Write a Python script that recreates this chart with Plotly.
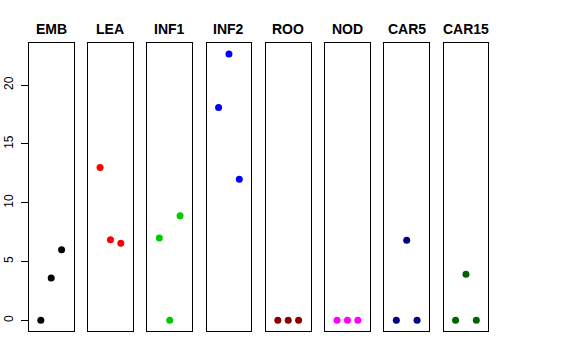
import plotly.graph_objects as go

categories = ["EMB", "LEA", "INF1", "INF2", "ROO", "NOD", "CAR5", "CAR15"]
values = {
    "EMB": [0.0, 3.6, 6.0],
    "LEA": [13.0, 6.85, 6.55],
    "INF1": [7.0, 0.0, 8.9],
    "INF2": [18.1, 22.65, 12.0],
    "ROO": [0.0, 0.0, 0.0],
    "NOD": [0.0, 0.0, 0.0],
    "CAR5": [0.0, 6.82, 0.0],
    "CAR15": [0.0, 3.93, 0.0],
}
colors = ["#000000", "#FF0000", "#00CD00", "#0000FF", "#8B0000", "#FF00FF", "#000080", "#006400"]
positions = [1, 2, 3]
y_ticks = [0, 5, 10, 15, 20]

W, H = 576, 360
left0 = 28.8
pitch = 59.25
pw = 44.8
top_px, bot_px = 43.3, 331.0
title_px = 29

fig = go.Figure()
layout = dict(
    width=W, height=H,
    margin=dict(l=0, r=0, t=0, b=0, autoexpand=False),
    paper_bgcolor="white", plot_bgcolor="white",
    showlegend=False,
    font=dict(family="Liberation Sans, Arial, sans-serif", color="black"),
    annotations=[],
)
ylo, yhi = -0.906, 23.56
for i, cat in enumerate(categories):
    n = "" if i == 0 else str(i + 1)
    x0 = (left0 + i * pitch) / W
    x1 = (left0 + i * pitch + pw) / W
    fig.add_trace(go.Scatter(
        x=positions, y=values[cat], mode="markers",
        marker=dict(color=colors[i], size=7),
        xaxis="x" + n, yaxis="y" + n, hoverinfo="skip",
    ))
    layout["xaxis" + n] = dict(
        domain=[x0, x1], range=[-0.16, 4.16], anchor="y" + n,
        showgrid=False, zeroline=False, showticklabels=False, ticks="",
        showline=True, mirror=True, linecolor="black", linewidth=1,
        automargin=False,
    )
    ydict = dict(
        domain=[1 - bot_px / H, 1 - top_px / H], range=[ylo, yhi], anchor="x" + n,
        showgrid=False, zeroline=False, automargin=False,
        showline=True, mirror=True, linecolor="black", linewidth=1,
    )
    if i == 0:
        ydict.update(tickvals=y_ticks, ticks="outside", ticklen=7, tickcolor="black",
                     tickangle=-90, tickfont=dict(size=12, color="black"), ticklabelstandoff=3)
    else:
        ydict.update(showticklabels=False, ticks="")
    layout["yaxis" + n] = ydict
    layout["annotations"].append(dict(
        text="<b>%s</b>" % cat, x=(x0 + x1) / 2, y=1 - title_px / H,
        xref="paper", yref="paper", showarrow=False,
        font=dict(size=14, color="black"), xanchor="center", yanchor="middle",
    ))

fig.update_layout(**layout)
fig.write_html("out.html", config={"displayModeBar": False},
               post_script="document.body.style.margin='0';")
